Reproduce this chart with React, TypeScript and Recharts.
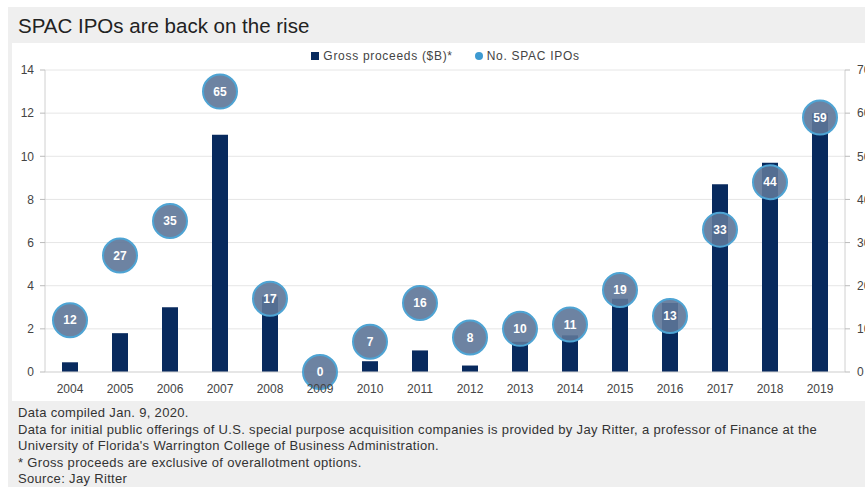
import { ComposedChart, Bar, Line, XAxis, YAxis, CartesianGrid, Legend, LabelList } from 'recharts';

const YEARS = ['2004', '2005', '2006', '2007', '2008', '2009', '2010', '2011', '2012', '2013', '2014', '2015', '2016', '2017', '2018', '2019'];
const PROCEEDS = [0.45, 1.8, 3.0, 11.0, 3.5, 0, 0.5, 1.0, 0.3, 1.4, 1.7, 3.4, 3.2, 8.7, 9.7, 12.0];
const IPOS = [12, 27, 35, 65, 17, 0, 7, 16, 8, 10, 11, 19, 13, 33, 44, 59];
const LEFT_TICKS = [0, 2, 4, 6, 8, 10, 12, 14];
const RIGHT_TICKS = [0, 10, 20, 30, 40, 50, 60, 70];
const NOTES = [
  'Data compiled Jan. 9, 2020.',
  "Data for initial public offerings of U.S. special purpose acquisition companies is provided by Jay Ritter, a professor of Finance at the",
  "University of Florida's Warrington College of Business Administration.",
  '* Gross proceeds are exclusive of overallotment options.',
  'Source: Jay Ritter'
];

const data = YEARS.map((year, i) => ({ year, proceeds: PROCEEDS[i], ipos: IPOS[i] }));

const NAVY = '#082a5e';
const FONT = "'Liberation Sans', Arial, sans-serif";
const tickStyle = { fontSize: 12, fill: '#444', fontFamily: FONT };

const Bubble = (props: any) => {
  const { cx, cy, index } = props;
  if (cx == null || cy == null) return <g key={`b-${index}`} />;
  return <circle key={`b-${index}`} cx={cx} cy={cy} r={17} fill="#5d7698" fillOpacity={0.9} stroke="#4ea4d4" strokeWidth={2} />;
};

const LegendContent = (props: any) => {
  const { payload = [] } = props;
  return <div style={{ display: 'flex', justifyContent: 'center', fontFamily: FONT, fontSize: 12, color: '#444', letterSpacing: 0.7 }}>
      {payload.map((entry: any, i: number) => <span key={i} style={{ display: 'flex', alignItems: 'center', marginRight: i === 0 ? 22 : 0, marginLeft: i === 0 ? 26 : 0 }}>
          <span style={{
        width: 8,
        height: 8,
        marginRight: 4,
        background: i === 0 ? NAVY : '#3d9ad1',
        borderRadius: i === 0 ? 0 : 4,
        display: 'inline-block'
      }} />
          {entry.value}
        </span>)}
    </div>;
};

export default function App() {
  return <div style={{ position: 'fixed', left: 0, top: 0, width: 865, height: 487, overflow: 'hidden', background: '#fff' }}>
      <div style={{ position: 'absolute', left: 8, top: 7, width: 857, height: 480, background: '#efefef' }} />
      <div style={{ position: 'absolute', left: 18, top: 14, fontFamily: FONT, fontSize: 20.5, color: '#222', whiteSpace: 'nowrap' }}>
        SPAC IPOs are back on the rise
      </div>
      <div style={{ position: 'absolute', left: 12, top: 43, width: 853, height: 358, background: '#fff' }} />
      <div style={{ position: 'absolute', left: 0, top: 0 }}>
        <ComposedChart width={900} height={402} data={data} margin={{ top: 70, right: 0, bottom: 0, left: 0 }}>
          <CartesianGrid yAxisId="left" vertical={false} stroke="#e6e6e6" />
          <XAxis dataKey="year" tick={tickStyle} tickLine={false} axisLine={{ stroke: '#d9d9d9' }} tickSize={0} tickMargin={12} height={30} interval={0} />
          <YAxis yAxisId="left" domain={[0, 14]} ticks={LEFT_TICKS} width={45} tick={tickStyle} tickSize={5} tickMargin={6} axisLine={{ stroke: '#d0d0d0' }} tickLine={{ stroke: '#bbb' }} />
          <YAxis yAxisId="right" orientation="right" domain={[0, 70]} ticks={RIGHT_TICKS} width={55} tick={{ ...tickStyle, textAnchor: 'start' }} tickSize={5} tickMargin={7} axisLine={{ stroke: '#d0d0d0' }} tickLine={{ stroke: '#bbb' }} />
          <Legend verticalAlign="middle" layout="horizontal" content={<LegendContent />} wrapperStyle={{ top: 49, left: 0, width: 865, height: 16 }} />
          <Bar yAxisId="left" dataKey="proceeds" name="Gross proceeds ($B)*" fill={NAVY} barSize={16} isAnimationActive={false} />
          <Line yAxisId="right" dataKey="ipos" name="No. SPAC IPOs" stroke="none" dot={Bubble} activeDot={false} isAnimationActive={false}>
            <LabelList dataKey="ipos" position="center" fill="#fff" fontSize={12} fontWeight="bold" fontFamily={FONT} />
          </Line>
        </ComposedChart>
      </div>
      <div style={{ position: 'absolute', left: 18, top: 405, fontFamily: FONT, fontSize: 13, lineHeight: '16.5px', color: '#333', letterSpacing: 0.33, whiteSpace: 'nowrap' }}>
        {NOTES.map((n, i) => <div key={i}>{n}</div>)}
      </div>
    </div>;
}
